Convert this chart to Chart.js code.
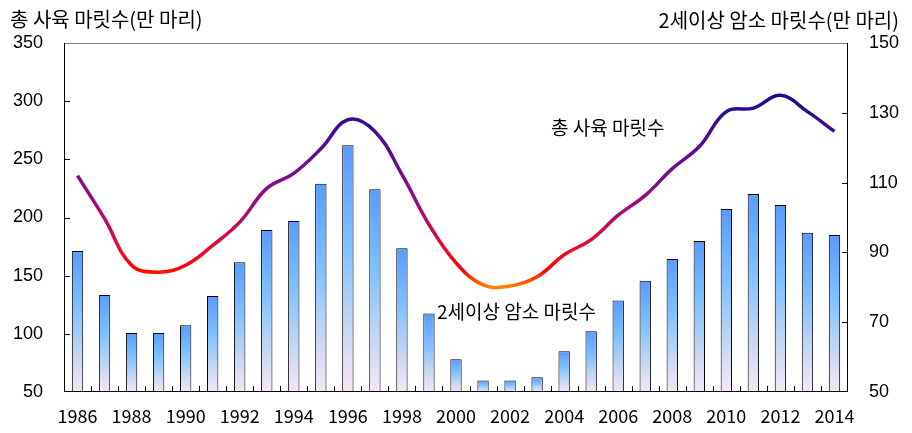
<!DOCTYPE html>
<html>
<head>
<meta charset="utf-8">
<script src="https://cdn.jsdelivr.net/npm/chart.js@4.4.1/dist/chart.umd.min.js"></script>
<style>
  html, body { margin: 0; padding: 0; background: #fff; }
  #wrap { width: 912px; height: 433px; position: relative; }
</style>
</head>
<body>
<div id="wrap"><canvas id="cattle-chart" width="912" height="433"></canvas></div>
<script>
// years on the x axis
const years = ['1986', '1987', '1988', '1989', '1990', '1991', '1992', '1993', '1994', '1995',
  '1996', '1997', '1998', '1999', '2000', '2001', '2002', '2003', '2004', '2005',
  '2006', '2007', '2008', '2009', '2010', '2011', '2012', '2013', '2014'];
// 총 사육 마릿수 (left axis, 만 마리)
const totalHead = [236, 199, 159, 153, 159, 176, 196, 225, 238, 259,
  284, 274, 237, 194, 161, 142, 141, 149, 168, 181,
  202, 219, 242, 261, 291, 294, 305, 291, 274];
// 2세이상 암소 마릿수 (right axis, 만 마리)
const cowHead = [90.4, 77.8, 66.9, 66.9, 69.1, 77.5, 87.2, 96.4, 99.0, 109.7,
  120.7, 108.1, 91.2, 72.5, 59.4, 53.3, 53.3, 54.2, 61.7, 67.4,
  76.2, 81.9, 88.1, 93.3, 102.4, 106.7, 103.6, 95.6, 95.0];
const leftTicks = [50, 350, 50];   // min, max, step
const rightTicks = [50, 150, 20];

const KR = '"Noto Sans CJK KR", "Noto Sans", sans-serif';
const NUM = '"Liberation Sans", Arial, sans-serif';

function lineGradient(context) {
  const chart = context.chart;
  const { ctx, chartArea, scales } = chart;
  if (!chartArea) return '#800080';
  const y0 = scales.y.getPixelForValue(305);
  const y1 = scales.y.getPixelForValue(140);
  const g = ctx.createLinearGradient(0, y0, 0, y1);
  const stop = (v, c) => g.addColorStop((305 - v) / (305 - 140), c);
  stop(305, '#1c0a8c');
  stop(270, '#4a0a98');
  stop(235, '#7e0a8a');
  stop(200, '#b3086c');
  stop(172, '#ee0a2c');
  stop(155, '#ff0000');
  stop(140, '#ff8000');
  return g;
}

function barGradient(context) {
  const chart = context.chart;
  const { ctx, chartArea, scales } = chart;
  if (!chartArea || context.type !== 'data') return '#7dbaff';
  const v = cowHead[context.dataIndex];
  const top = scales.y2.getPixelForValue(v);
  const bottom = scales.y2.getPixelForValue(50);
  const g = ctx.createLinearGradient(0, top, 0, bottom);
  g.addColorStop(0, '#5a9aff');
  g.addColorStop(0.4, '#80c0ff');
  g.addColorStop(0.72, '#c2d6f2');
  g.addColorStop(1, '#f8e6f6');
  return g;
}

const decorPlugin = {
  id: 'decor',
  afterDraw(chart) {
    const { ctx, chartArea, scales } = chart;
    const { left, right, top, bottom } = chartArea;
    ctx.save();
    // frame
    ctx.lineWidth = 1;
    ctx.strokeStyle = '#808080';
    ctx.beginPath();
    ctx.moveTo(left, top + 0.5);
    ctx.lineTo(right, top + 0.5);
    ctx.stroke();
    ctx.strokeStyle = '#000';
    ctx.beginPath();
    ctx.moveTo(left + 0.5, top);
    ctx.lineTo(left + 0.5, bottom);
    ctx.moveTo(right - 0.5, top);
    ctx.lineTo(right - 0.5, bottom);
    ctx.moveTo(left, bottom - 0.5);
    ctx.lineTo(right, bottom - 0.5);
    // inward ticks
    for (let v = leftTicks[0] + leftTicks[2]; v < leftTicks[1]; v += leftTicks[2]) {
      const y = Math.round(scales.y.getPixelForValue(v)) + 0.5;
      ctx.moveTo(left, y);
      ctx.lineTo(left + 6, y);
    }
    for (let v = rightTicks[0] + rightTicks[2]; v < rightTicks[1]; v += rightTicks[2]) {
      const y = Math.round(scales.y2.getPixelForValue(v)) + 0.5;
      ctx.moveTo(right, y);
      ctx.lineTo(right - 6, y);
    }
    const step = (right - left) / years.length;
    for (let i = 1; i < years.length; i++) {
      const x = Math.round(left + step * i) + 0.5;
      ctx.moveTo(x, bottom);
      ctx.lineTo(x, bottom - 6);
    }
    ctx.stroke();
    // titles and series notes
    ctx.fillStyle = '#000';
    ctx.textBaseline = 'middle';
    ctx.textAlign = 'left';
    ctx.font = '20px ' + KR;
    ctx.fillText('총 사육 마릿수(만 마리)', 10, 19);
    ctx.font = '19px ' + KR;
    ctx.fillText('총 사육 마릿수', 551, 128);
    ctx.fillText('2세이상 암소 마릿수', 437, 312);
    ctx.textAlign = 'right';
    ctx.font = '20px ' + KR;
    ctx.fillText('2세이상 암소 마릿수(만 마리)', 899, 20);
    ctx.restore();
  }
};

new Chart(document.getElementById('cattle-chart'), {
  data: {
    labels: years,
    datasets: [
      {
        type: 'line',
        label: '총 사육 마릿수',
        data: totalHead,
        yAxisID: 'y',
        borderColor: lineGradient,
        borderWidth: 3.5,
        tension: 0.4,
        pointRadius: 0,
        fill: false,
        order: 0
      },
      {
        type: 'bar',
        label: '2세이상 암소 마릿수',
        data: cowHead,
        yAxisID: 'y2',
        backgroundColor: barGradient,
        borderColor: '#000',
        borderWidth: 1,
        borderSkipped: 'bottom',
        categoryPercentage: 1,
        barPercentage: 0.42,
        order: 1
      }
    ]
  },
  options: {
    responsive: false,
    animation: false,
    layout: { padding: { top: 43, left: 0, right: 0, bottom: 0 } },
    plugins: { legend: { display: false }, tooltip: { enabled: false } },
    scales: {
      x: {
        type: 'category',
        offset: true,
        grid: { display: false, drawTicks: false },
        border: { display: false },
        ticks: {
          autoSkip: false, maxRotation: 0, minRotation: 0, padding: 13,
          color: '#000', font: { family: KR, size: 18 },
          callback: (v, i) => (i % 2 === 0 ? years[i] : '')
        },
        afterFit: s => { s.height = 41; }
      },
      y: {
        position: 'left',
        min: leftTicks[0], max: leftTicks[1],
        grid: { display: false, drawTicks: false },
        border: { display: false },
        ticks: { stepSize: leftTicks[2], padding: 21, color: '#000', font: { family: NUM, size: 18 } },
        afterFit: s => { s.width = 64; }
      },
      y2: {
        position: 'right',
        min: rightTicks[0], max: rightTicks[1],
        grid: { display: false, drawTicks: false },
        border: { display: false },
        ticks: { stepSize: rightTicks[2], padding: 21, color: '#000', font: { family: NUM, size: 18 } },
        afterFit: s => { s.width = 64; }
      }
    }
  },
  plugins: [decorPlugin]
});
</script>
</body>
</html>
